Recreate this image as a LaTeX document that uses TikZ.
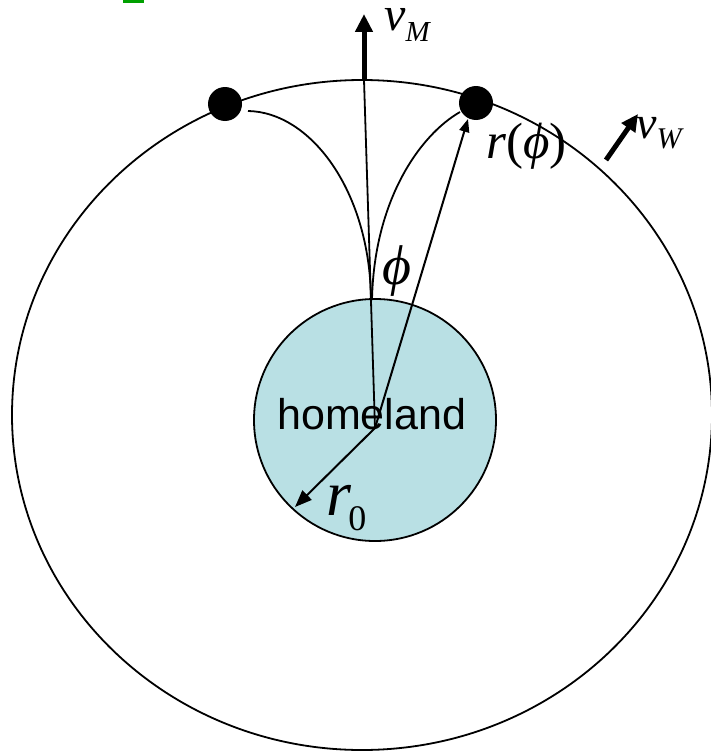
\documentclass[tikz,border=0pt]{standalone}
\usepackage{fontspec}
\setmainfont{Liberation Serif}
\newfontfamily\sansf{Liberation Sans}
\usetikzlibrary{arrows.meta}
\definecolor{homeblue}{RGB}{185,224,228}
\definecolor{markgreen}{RGB}{0,160,0}
\tikzset{
  thinline/.style={line width=1.8pt, black},
  thickarrow/.style={line width=5pt, -{Triangle[length=18pt,width=17pt]}},
  radarrow/.style={line width=2pt, -{Triangle[length=13pt,width=10pt]}},
  dotnode/.style={circle, fill=black, minimum size=34pt, inner sep=0pt},
  lbl/.style={inner sep=0pt, anchor=base west},
}
\begin{document}
\begin{tikzpicture}[x=1pt,y=-1pt]
\useasboundingbox (0,0) rectangle (711,752);
% green mark
\fill[markgreen] (123,0) rectangle (144,3);
% outer ellipse
\draw[thinline] (362,415) ellipse [x radius=350, y radius=335];
% homeland
\node[circle, draw=black, line width=1.8pt, fill=homeblue, minimum size=242pt, inner sep=0pt] (home) at (375,420) {};
\node[lbl, font=\sansf\fontsize{43}{43}\selectfont] (hl) at (277,429) {homeland};
% key points
\coordinate (c) at (375,428);
\coordinate (top) at (364,80);
\coordinate (cusp) at (371,300);
\coordinate (vmtip) at (364,14);
\coordinate (rtip) at (468,119);
\coordinate (r0tip) at (295,507);
\coordinate (vwtail) at (606,160);
\coordinate (vwtip) at (638,114);
% curves from dots to cusp
\draw[thinline] (248,111) .. controls (310,112) and (370,190) .. (cusp);
\draw[thinline] (460,112) .. controls (420,135) and (374,200) .. (372,300);
% radial line up
\draw[thinline] (c) -- (top);
% dots
\node[dotnode] (d1) at (225,104) {};
\node[dotnode] (d2) at (476,103) {};
% r(phi) arrow
\draw[radarrow] (c) -- (rtip);
% r0 arrow
\draw[line width=2pt, -{Triangle[length=17pt,width=13pt]}] (c) -- (r0tip);
% velocity arrows
\draw[thickarrow] (top) -- (vmtip);
\draw[line width=5pt, -{Triangle[length=17pt,width=16pt]}] (vwtail) -- (vwtip);
% labels
\node[lbl, font=\fontsize{48}{48}\selectfont] (vm) at (384,31) {\textit{v}\raisebox{-11pt}{\fontsize{29}{29}\selectfont\textit{M}}};
\node[lbl, font=\fontsize{46}{46}\selectfont] (vw) at (636,138) {\textit{v}\raisebox{-10pt}{\fontsize{30}{30}\selectfont\textit{W}}};
\node[lbl, font=\fontsize{51}{51}\selectfont] (rphi) at (486,158) {\textit{r}(\textit{ϕ})};
\node[lbl, font=\fontsize{56}{56}\selectfont] (phi) at (382,284) {\textit{ϕ}};
\node[lbl, font=\fontsize{64}{64}\selectfont] (r0) at (326,515) {\textit{r}\kern-3pt\raisebox{-15pt}{\fontsize{36}{36}\selectfont 0}};
\end{tikzpicture}
\end{document}
